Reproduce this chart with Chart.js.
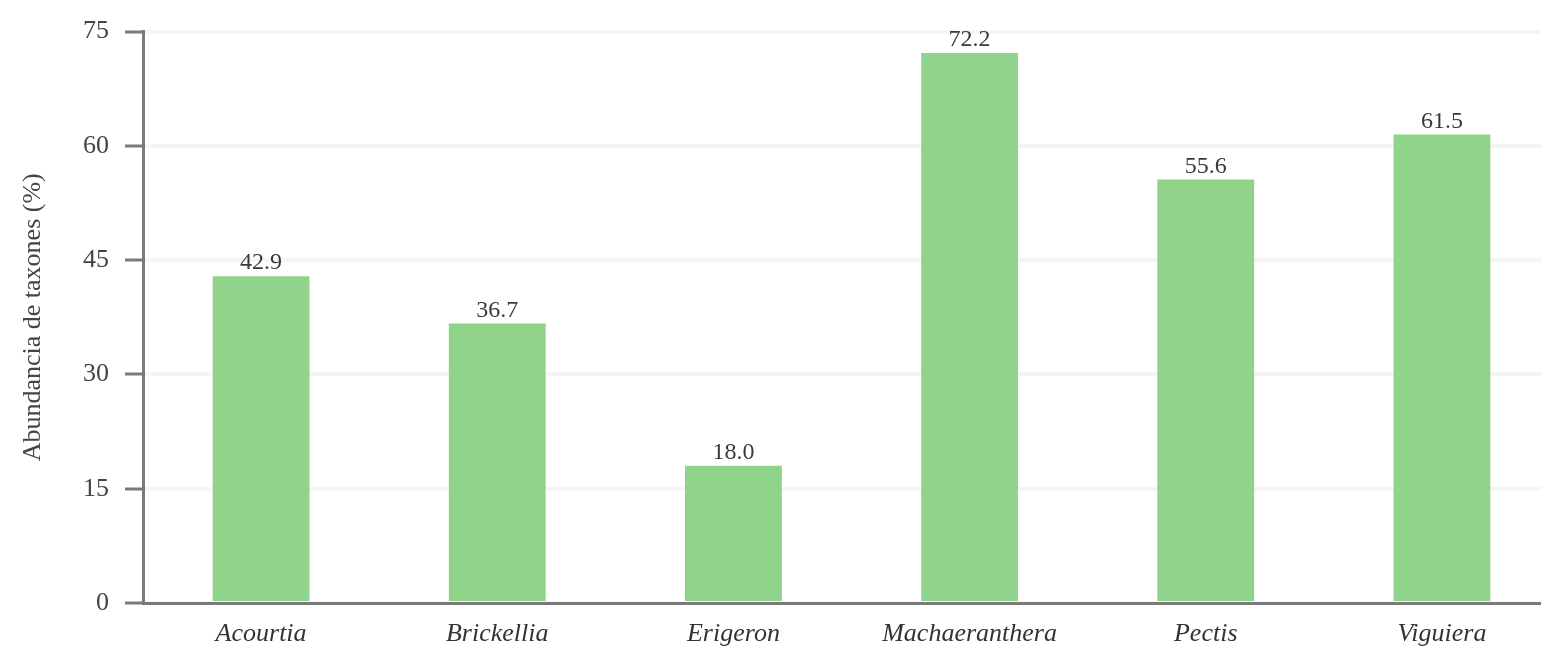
<!DOCTYPE html>
<html>
<head>
<meta charset="utf-8">
<script src="https://cdn.jsdelivr.net/npm/chart.js@4"></script>
<style>
  html, body { margin: 0; padding: 0; background: #fff; overflow: hidden; }
  #wrap { width: 1541px; height: 650px; overflow: hidden; }
</style>
</head>
<body>
<div id="wrap"><canvas id="abundChart" width="1560" height="650"></canvas></div>
<script>
// Data
const generos = ["Acourtia", "Brickellia", "Erigeron", "Machaeranthera", "Pectis", "Viguiera"];
const abundancia = [42.9, 36.7, 18.0, 72.2, 55.6, 61.5];
const yTicks = [0, 15, 30, 45, 60, 75];

const serif = "'Liberation Serif', 'DejaVu Serif', serif";
const axisGray = "#7a7a7a";

// value labels above each bar
const valueLabels = {
  id: "valueLabels",
  afterDatasetsDraw(chart) {
    const ctx = chart.ctx;
    const meta = chart.getDatasetMeta(0);
    ctx.save();
    ctx.font = "24px " + serif;
    ctx.fillStyle = "#3a3a3a";
    ctx.textAlign = "center";
    ctx.textBaseline = "bottom";
    meta.data.forEach((bar, i) => {
      ctx.fillText(abundancia[i].toFixed(1), bar.x, bar.y - 1);
    });
    ctx.restore();
  },
};

const abundChart = new Chart(document.getElementById("abundChart"), {
  type: "bar",
  data: {
    labels: generos,
    datasets: [
      {
        label: "Abundancia",
        data: abundancia,
        backgroundColor: "rgb(143, 212, 138)",
        borderWidth: 0,
        barPercentage: 0.41,
        categoryPercentage: 1,
      },
    ],
  },
  options: {
    responsive: false,
    animation: false,
    layout: { padding: { top: 31, right: 0, bottom: 0, left: 0 } },
    scales: {
      y: {
        min: 0,
        max: 75,
        afterBuildTicks: (s) => { s.ticks = yTicks.map((v) => ({ value: v })); },
        afterFit: (s) => { s.width = 143; },
        ticks: {
          color: "#444",
          font: { family: serif, size: 26 },
          padding: 16,
        },
        grid: {
          color: "rgba(0,0,0,0.04)",
          lineWidth: 4,
          tickColor: axisGray,
          tickWidth: 3,
          tickLength: 18,
        },
        border: { display: true, color: axisGray, width: 3 },
        title: {
          display: true,
          text: "Abundancia de taxones (%)",
          color: "#444",
          font: { family: serif, size: 26 },
          padding: { top: 18, bottom: 0 },
        },
      },
      x: {
        afterFit: (s) => { s.height = 47; },
        ticks: {
          color: "#333",
          font: { family: serif, size: 26, style: "italic" },
          padding: 16,
        },
        grid: { display: true, drawOnChartArea: false, drawTicks: false },
        border: { display: true, color: axisGray, width: 3 },
      },
    },
    plugins: {
      legend: { display: false },
      tooltip: { enabled: false },
    },
  },
  plugins: [valueLabels],
});
</script>
</body>
</html>
